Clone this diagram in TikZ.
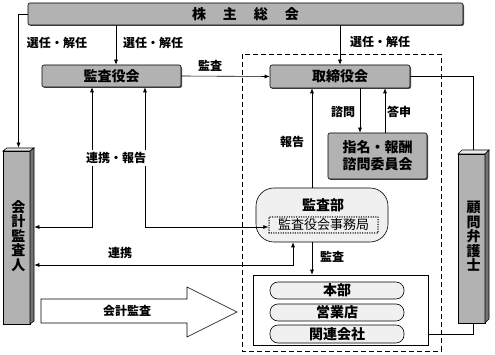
\documentclass[tikz,border=0pt]{standalone}
\usepackage{fontspec}
\setmainfont{Noto Sans CJK JP}
\usetikzlibrary{arrows.meta,shadows}

\begin{document}
\begin{tikzpicture}[x=1pt, y=-1pt, line width=0.6pt,
  >={Latex[length=5pt,width=4pt]},
  graybox/.style={draw, fill=black!30, rounded corners=2pt, inner sep=0pt,
    font=\fontsize{14}{17}\selectfont\bfseries,
    drop shadow={shadow xshift=1pt, shadow yshift=-1pt, fill=black!65, opacity=1}},
  pillbox/.style={draw, fill=black!6, rounded corners=8pt, minimum width=134pt,
    minimum height=17pt, inner sep=0pt, font=\fontsize{14}{16}\selectfont\bfseries},
  tallbox/.style={inner sep=0pt, align=center, font=\fontsize{14}{14.5}\selectfont\bfseries},
  lbl/.style={font=\fontsize{12}{14}\selectfont\bfseries, inner sep=1pt}]
  \useasboundingbox (0,0) rectangle (495,355);

  % dashed frame of the executive side
  \draw[dash pattern=on 5pt off 3pt] (242,54) rectangle (441,351);

  % boxes
  \node[graybox, minimum width=435pt, minimum height=22pt] (soukai) at (245.5,14)
    {株\hspace{17pt}主\hspace{17pt}総\hspace{17pt}会};
  \node[graybox, minimum width=139pt, minimum height=22pt] (kansayaku) at (111.5,76) {監査役会};
  \node[graybox, minimum width=140pt, minimum height=23pt] (torishimari) at (340,76.5) {取締役会};
  \node[graybox, minimum width=99pt, minimum height=46pt, align=center] (iinkai) at (377.5,156)
    {指名・報酬\\諮問委員会};
  \node[draw, fill=black!6, rounded corners=18pt, minimum width=132pt, minimum height=54pt,
    inner sep=0pt] (kansabu) at (322,215) {};
  \node[font=\fontsize{14}{16}\selectfont\bfseries, inner sep=0pt] (kansabulabel) at (323,205) {監査部};
  \node[draw, dash pattern=on 0pt off 2.4pt, line cap=round, line width=1.5pt, minimum width=109pt,
    minimum height=16pt, inner sep=0pt, font=\fontsize{13}{15}\selectfont] (jimukyoku) at (323.5,225) {監査役会事務局};
  \node[draw, fill=white, minimum width=175pt, minimum height=70pt, inner sep=0pt] (outer) at (340.5,310) {};
  \node[pillbox] (honbu) at (337,290.5) {本部};
  \node[pillbox] (eigyo) at (337,312.5) {営業店};
  \node[pillbox, minimum height=18pt] (kanren) at (337,334) {関連会社};

  % prism of the auditor
  \draw[fill=black!30] (3,151) rectangle (30,324);
  \draw[fill=black!8] (3,151) -- (7,148) -- (34,148) -- (30,151) -- cycle;
  \draw[fill=black!55] (30,151) -- (34,148) -- (34,321) -- (30,324) -- cycle;
  \node[tallbox, minimum width=31pt, minimum height=176pt] (kaikei) at (18.5,236)
    {会\\計\\監\\査\\人};

  % prism of the lawyer
  \draw[fill=black!30] (458,154) rectangle (485,323);
  \draw[fill=black!8] (458,154) -- (462,150) -- (489,150) -- (485,154) -- cycle;
  \draw[fill=black!55] (485,154) -- (489,150) -- (489,319) -- (485,323) -- cycle;
  \node[tallbox, minimum width=31pt, minimum height=173pt] (komon) at (473.5,236.5)
    {顧\\問\\弁\\護\\士};

  % big arrow
  \draw[fill=white] (41,299) -- (187,299) -- (187,287) -- (237,312) -- (187,337)
    -- (187,323) -- (41,323) -- cycle;
  \node[lbl] (kaikeikansa) at (127,311) {会計監査};

  % connectors
  \draw[->] (soukai.west) -| (kaikei.north);
  \draw[->] ([xshift=4.5pt]kansayaku.north |- soukai.south) -- ([xshift=4.5pt]kansayaku.north);
  \draw[->] (torishimari.north |- soukai.south) -- (torishimari.north);
  \draw[->] (kansayaku.east) -- (torishimari.west);
  \draw (torishimari.east) -| (komon.north);
  \draw (kanren.east -| outer.east) -| (komon.south);
  \draw[<->] ([xshift=-19.5pt]kansayaku.south) |- ([yshift=-2pt]kaikei.east |- jimukyoku.west);
  \draw[<->] ([xshift=33.5pt]kansayaku.south) |- ([yshift=-2pt]jimukyoku.west);
  \draw[<->] (kaikei.east |- 0,265) -| ([xshift=-29pt]kansabu.south);
  \draw[->] ([xshift=-10pt]kansabu.north) -- ([xshift=-10pt]kansabu.north |- torishimari.south);
  \draw[->] ([xshift=-17.5pt]iinkai.north |- torishimari.south) -- ([xshift=-17.5pt]iinkai.north);
  \draw[->] ([xshift=7.5pt]iinkai.north) -- ([xshift=7.5pt]iinkai.north |- torishimari.south);
  \draw[->] ([xshift=-10pt]kansabu.south) -- ([xshift=-10pt]kansabu.south |- outer.north);

  % labels
  \node[lbl] (sennin1) at (57,43) {選任・解任};
  \node[lbl] (sennin2) at (153,43) {選任・解任};
  \node[lbl] (sennin3) at (380,42) {選任・解任};
  \node[lbl] (kansa1) at (210,66) {監査};
  \node[lbl] (shimon) at (343,112) {諮問};
  \node[lbl] (toshin) at (399,112) {答申};
  \node[lbl] (houkoku) at (292,142) {報告};
  \node[lbl, fill=white, inner sep=2pt] (renkeihoukoku) at (116,158) {連携・報告};
  \node[lbl] (renkei) at (120,253) {連携};
  \node[lbl] (kansa2) at (332,257) {監査};
\end{tikzpicture}
\end{document}
